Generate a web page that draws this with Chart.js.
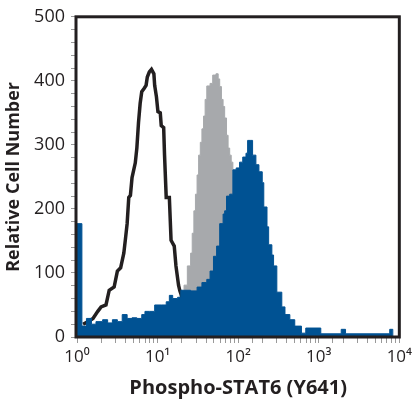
<!DOCTYPE html>
<html>
<head>
<meta charset="utf-8">
<script src="https://cdn.jsdelivr.net/npm/chart.js@4"></script>
<style>
  html, body { margin: 0; padding: 0; background: #fff; }
</style>
</head>
<body>
<canvas id="histo" width="416" height="401"></canvas>
<script>
// axis ticks
const xTickValues = [1, 10, 100, 1000, 10000];
const xTickLabels = ["10⁰", "10¹", "10²", "10³", "10⁴"];
const yTickLabels = [0, 100, 200, 300, 400, 500];

// isotype control (black outline)
const isoX = [1.19, 1.37, 1.58, 1.81, 1.99, 2.29, 2.51, 2.89, 3.17, 3.48, 3.81, 4.0, 4.19, 4.39, 4.6, 4.82, 5.29, 5.53, 5.8, 6.08, 6.36, 6.8, 7.2, 7.46, 7.9, 8.4, 9.0, 9.2, 9.68, 10.1, 10.8, 11.1, 11.9, 12.2, 12.8, 14.0, 14.7, 16.1, 16.9, 18.2, 18.9, 21, 24, 28, 34, 42];
const isoY = [20, 24, 29, 40, 47, 50, 73, 78, 103, 108, 131, 154, 177, 218, 221, 249, 272, 295, 335, 365, 383, 388, 393, 406, 414, 418, 411, 393, 375, 352, 350, 330, 327, 284, 218, 218, 151, 142, 111, 81, 72, 55, 35, 18, 6, 0];

// untreated (grey fill)
const untreatedX = [8, 12, 16, 19, 21.3, 23.4, 25.7, 26.9, 28.2, 29.5, 30.9, 32.3, 33.9, 35.5, 37.2, 38.9, 40.8, 44.8, 48.3, 53, 56.5, 59, 62, 65, 68, 71.7, 75, 78.5, 82, 86, 100, 120, 150, 200, 300, 500];
const untreatedY = [5, 20, 45, 65, 81, 111, 131, 162, 197, 223, 253, 284, 304, 325, 345, 371, 392, 396, 409, 411, 403, 391, 371, 360, 342, 315, 295, 284, 273, 250, 200, 140, 80, 35, 10, 0];

// IL-4 treated (blue fill)
const treatedX = [1.0, 1.15, 1.31, 1.51, 1.72, 2.08, 2.4, 2.75, 3.17, 3.64, 4.19, 4.82, 5.53, 6.36, 6.97, 8, 9.2, 11.1, 12.8, 14, 15.4, 17.7, 19.4, 25.7, 30.9, 35.5, 40.8, 44.8, 49.4, 54, 59, 65, 68, 71.7, 78.5, 86, 94.5, 104, 114, 125, 131, 144, 151, 166, 181, 199, 208, 228, 239, 262, 275, 302, 348, 381, 438, 504, 610, 690, 1060, 1900, 2150, 7600, 8300];
const treatedY = [177, 17, 29, 20, 24, 27, 22, 27, 24, 35, 29, 30, 29, 35, 40, 40, 50, 50, 55, 65, 60, 62, 73, 72, 78, 85, 90, 103, 126, 142, 177, 192, 197, 220, 223, 261, 264, 273, 281, 287, 307, 307, 284, 269, 258, 241, 203, 172, 144, 128, 111, 70, 47, 35, 27, 17, 6, 14, 5, 12, 5, 12, 0];

function pts(xs, ys) {
  return xs.map((x, i) => ({ x: x, y: ys[i] }));
}

const ink = "#231f20";
const font = "'Open Sans', 'DejaVu Sans', sans-serif";

// box around the plot area
const frame = {
  id: "frame",
  afterDatasetsDraw(chart) {
    const { ctx, chartArea: a } = chart;
    ctx.save();
    ctx.strokeStyle = ink;
    ctx.lineWidth = 3;
    ctx.strokeRect(a.left - 1, a.top, a.right - a.left + 1, a.bottom - a.top);
    ctx.restore();
  },
};

new Chart(document.getElementById("histo"), {
  type: "line",
  data: {
    datasets: [
      {
        data: pts(treatedX, treatedY),
        stepped: true,
        fill: "origin",
        backgroundColor: "#005293",
        borderColor: "#005293",
        borderWidth: 1,
        pointRadius: 0,
        order: 0,
      },
      {
        data: pts(isoX, isoY),
        fill: false,
        borderColor: ink,
        borderWidth: 3.5,
        borderJoinStyle: "miter",
        pointRadius: 0,
        order: 1,
      },
      {
        data: pts(untreatedX, untreatedY),
        stepped: true,
        fill: "origin",
        backgroundColor: "#a7a9ac",
        borderColor: "#a7a9ac",
        borderWidth: 1,
        pointRadius: 0,
        order: 2,
      },
    ],
  },
  options: {
    responsive: false,
    animation: false,
    layout: { padding: { top: 7, right: 9, left: 0, bottom: 0 } },
    plugins: { legend: { display: false }, tooltip: { enabled: false } },
    scales: {
      x: {
        type: "logarithmic",
        min: 1,
        max: 10000,
        afterFit: (s) => { s.height = 64; },
        border: { display: false },
        grid: { drawOnChartArea: false, tickLength: 6, color: "#9a9a9a" },
        ticks: {
          autoSkip: false,
          maxRotation: 0,
          padding: 4,
          color: ink,
          font: { family: font, size: 17 },
          callback: (v) => {
            const i = xTickValues.findIndex((t) => Math.abs(t - v) < 1e-6 * t);
            return i >= 0 ? xTickLabels[i] : "";
          },
        },
        title: {
          display: true,
          text: "Phospho-STAT6 (Y641)",
          color: ink,
          font: { family: font, size: 20, weight: "bold" },
          padding: { top: 0, bottom: 1 },
        },
      },
      y: {
        min: 0,
        max: 500,
        afterFit: (s) => { s.width = 77; },
        border: { display: false },
        grid: { drawOnChartArea: false, tickLength: 6, color: "#9a9a9a" },
        ticks: {
          stepSize: 20,
          autoSkip: false,
          padding: 6,
          color: ink,
          font: { family: font, size: 18 },
          callback: (v) => (yTickLabels.includes(v) ? String(v) : ""),
        },
        title: {
          display: true,
          text: "Relative Cell Number",
          color: ink,
          font: { family: font, size: 18, weight: "bold" },
          padding: { top: 3, bottom: 0 },
        },
      },
    },
  },
  plugins: [frame],
});
</script>
</body>
</html>
